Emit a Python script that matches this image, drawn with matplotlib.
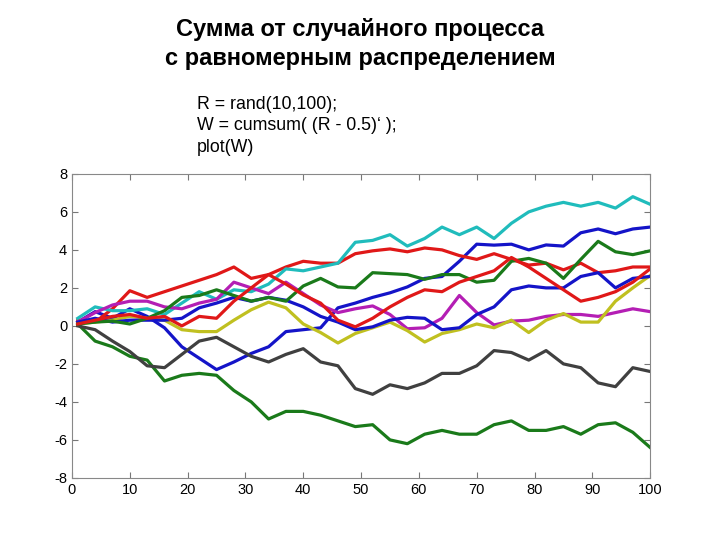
import matplotlib
matplotlib.use("Agg")
import matplotlib.pyplot as plt

plt.rcParams['font.family'] = ['Liberation Sans', 'DejaVu Sans']
plt.rcParams['axes.unicode_minus'] = False

# x positions of the sampled points (every 3rd step)
steps = list(range(1, 101, 3))

blue_a = [0.2, 0.75, 0.4, 0.9, 0.5, -0.1, -1.1, -1.7, -2.3, -1.9, -1.45, -1.1,
          -0.3, -0.2, -0.1, 0.95, 1.2, 1.5, 1.74, 2.05, 2.5, 2.6, 3.4, 4.3,
          4.25, 4.3, 4.0, 4.26, 4.2, 4.9, 5.1, 4.85, 5.1, 5.2]
green_b = [0.1, -0.8, -1.1, -1.6, -1.8, -2.9, -2.6, -2.5, -2.6, -3.4, -4.0, -4.9,
           -4.5, -4.5, -4.7, -5.0, -5.3, -5.2, -6.0, -6.2, -5.7, -5.5, -5.7, -5.7,
           -5.2, -5.0, -5.5, -5.5, -5.3, -5.7, -5.2, -5.1, -5.6, -6.4]
red_a = [0.3, 0.2, 0.9, 1.85, 1.5, 1.8, 2.1, 2.4, 2.7, 3.1, 2.5, 2.7,
         3.1, 3.4, 3.3, 3.3, 3.8, 3.95, 4.05, 3.9, 4.1, 4.0, 3.7, 3.5,
         3.8, 3.5, 3.2, 3.3, 2.95, 3.3, 2.8, 2.9, 3.1, 3.1]
cyan = [0.4, 1.0, 0.8, 0.8, 0.9, 0.6, 1.2, 1.8, 1.4, 1.9, 1.8, 2.2,
        3.0, 2.9, 3.1, 3.3, 4.4, 4.5, 4.8, 4.2, 4.6, 5.2, 4.8, 5.2,
        4.6, 5.4, 6.0, 6.3, 6.5, 6.3, 6.5, 6.2, 6.8, 6.4]
magenta = [0.2, 0.7, 1.1, 1.3, 1.3, 1.0, 0.9, 1.2, 1.4, 2.3, 2.0, 1.7,
           2.3, 1.7, 1.1, 0.7, 0.9, 1.05, 0.6, -0.15, -0.1, 0.4, 1.6, 0.7,
           0.05, 0.25, 0.3, 0.5, 0.6, 0.6, 0.5, 0.7, 0.9, 0.75]
olive = [0.1, 0.2, 0.3, 0.5, 0.4, 0.3, -0.2, -0.3, -0.3, 0.3, 0.85, 1.25,
         0.95, 0.1, -0.35, -0.9, -0.4, -0.1, 0.2, -0.25, -0.85, -0.4, -0.2, 0.1,
         -0.1, 0.3, -0.35, 0.3, 0.65, 0.2, 0.2, 1.3, 2.0, 2.65]
gray = [0.0, -0.2, -0.8, -1.35, -2.1, -2.2, -1.5, -0.8, -0.6, -1.1, -1.6, -1.9,
        -1.5, -1.2, -1.9, -2.1, -3.3, -3.6, -3.1, -3.3, -3.0, -2.5, -2.5, -2.1,
        -1.3, -1.4, -1.8, -1.3, -2.0, -2.2, -3.0, -3.2, -2.2, -2.4]
blue_b = [0.2, 0.4, 0.2, 0.3, 0.3, 0.3, 0.4, 0.95, 1.2, 1.5, 1.3, 1.5,
          1.35, 1.0, 0.5, 0.2, -0.2, -0.05, 0.3, 0.45, 0.4, -0.2, -0.1, 0.6,
          1.0, 1.9, 2.1, 2.0, 2.0, 2.6, 2.8, 2.0, 2.5, 2.6]
green_a = [0.1, 0.2, 0.25, 0.1, 0.4, 0.8, 1.5, 1.6, 1.9, 1.6, 1.3, 1.5,
           1.3, 2.1, 2.5, 2.05, 2.0, 2.8, 2.75, 2.7, 2.45, 2.7, 2.7, 2.3,
           2.4, 3.4, 3.55, 3.3, 2.5, 3.5, 4.45, 3.9, 3.75, 3.95]
red_b = [0.1, 0.3, 0.5, 0.6, 0.4, 0.5, 0.0, 0.5, 0.4, 1.3, 2.0, 2.7,
         2.2, 1.63, 1.2, 0.3, -0.05, 0.4, 1.0, 1.5, 1.9, 1.8, 2.3, 2.6,
         2.9, 3.6, 3.1, 2.5, 1.9, 1.3, 1.5, 1.8, 2.3, 3.0]

series = [blue_a, green_b, red_a, cyan, magenta, olive, gray, blue_b, green_a, red_b]
colors = ['#1414c8', '#1a7a1a', '#e01818', '#20bcbc', '#b41eb4',
          '#c0c020', '#404040', '#1414c8', '#1a7a1a', '#e01818']

fig = plt.figure(figsize=(7.2, 5.4), dpi=100)
fig.text(0.5, 0.918, 'Сумма от случайного процесса\nс равномерным распределением',
         ha='center', va='center', fontsize=17, fontweight='bold', linespacing=1.35)
fig.text(0.274, 0.767, "R = rand(10,100);\nW = cumsum( (R - 0.5)‘ );\nplot(W)",
         ha='left', va='center', fontsize=12.8, linespacing=1.33)

ax = fig.add_axes([0.1, 0.115, 0.803, 0.563])
for ys, c in zip(series, colors):
    ax.plot(steps, ys, color=c, linewidth=2.3)

ax.set_xlim(0, 100)
ax.set_ylim(-8, 8)
ax.set_xticks(range(0, 101, 10))
ax.set_yticks(range(-8, 9, 2))
ax.tick_params(direction='in', top=True, right=True, color='#777777',
               labelsize=10.5, length=4)
for s in ax.spines.values():
    s.set_color('#888888')

fig.savefig('out.png', dpi=100)
